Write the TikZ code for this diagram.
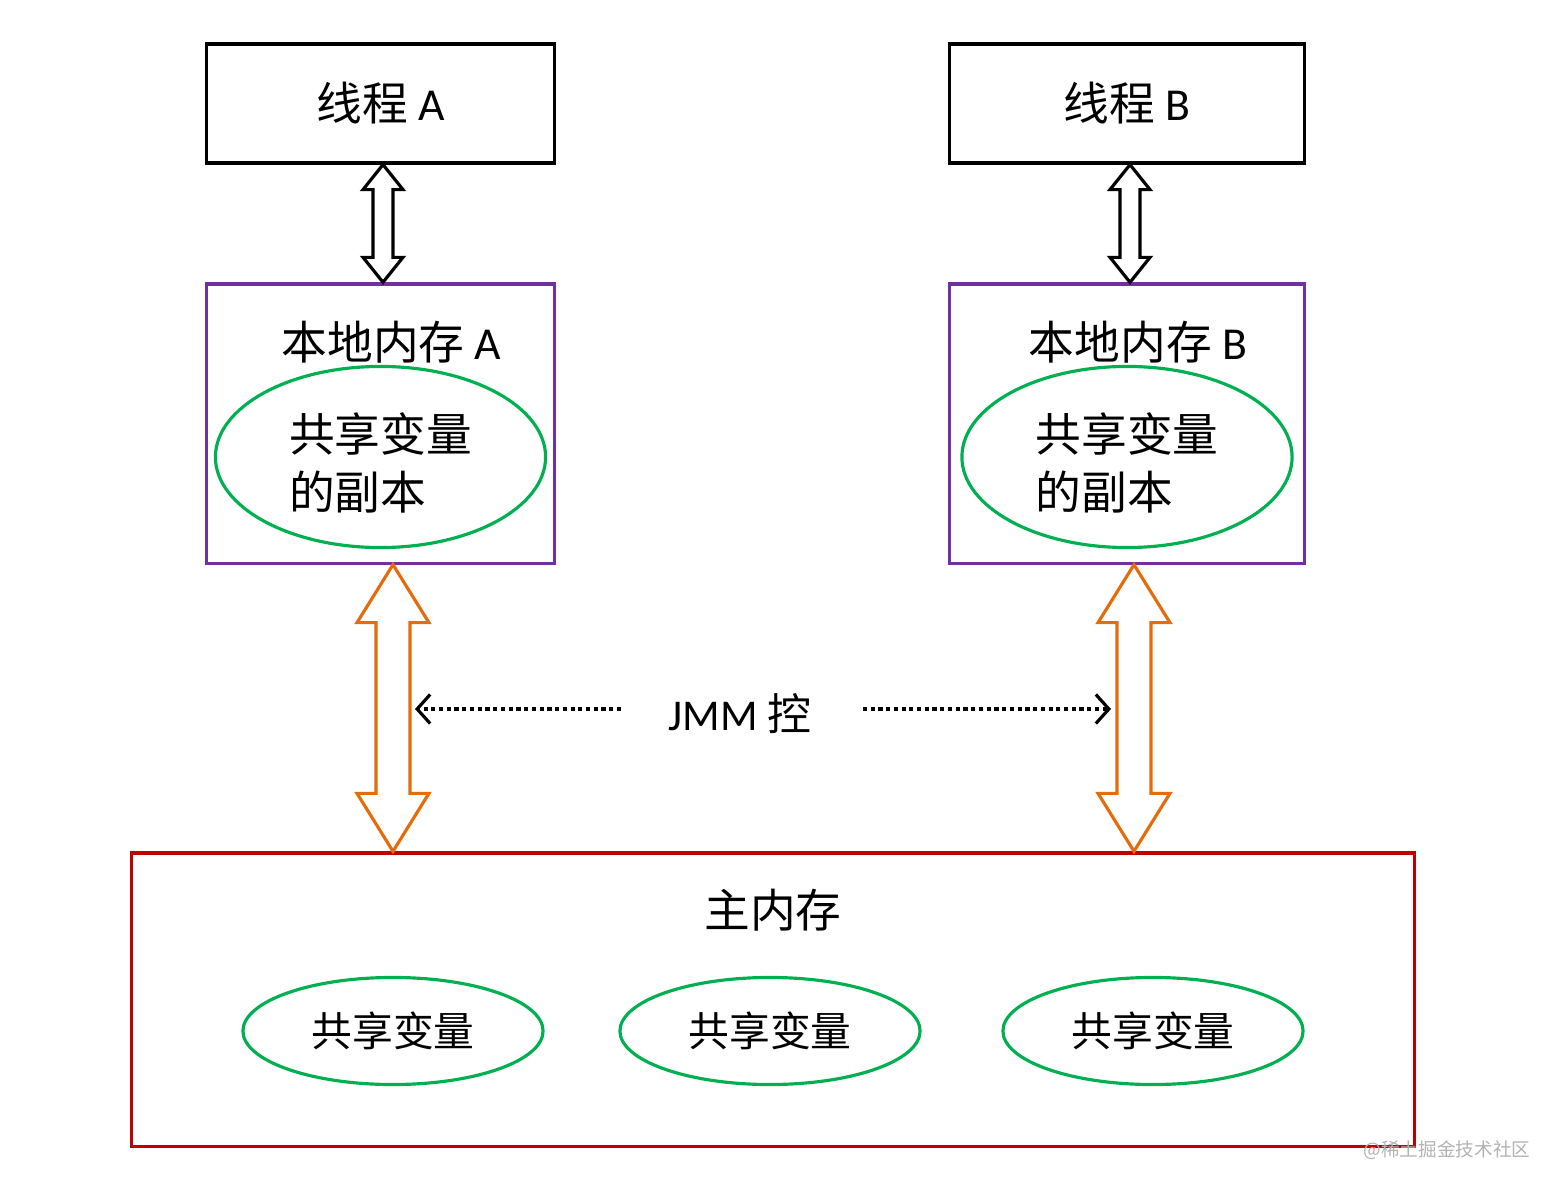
\documentclass[tikz,border=0pt]{standalone}
\usepackage{fontspec}
\setmainfont{Carlito}
\newfontfamily\cjk{Noto Sans CJK SC}
\usetikzlibrary{shapes.geometric,arrows.meta,calc}
\definecolor{memPurple}{HTML}{7030A0}
\definecolor{varGreen}{HTML}{00B050}
\definecolor{busOrange}{HTML}{E46C0A}
\definecolor{mainRed}{HTML}{C00000}
% hollow double arrow: style, top tip, bottom tip, shaft half width, head half width, head length
\newcommand\fatarrow[6]{%
  \draw[#1] (#2) -- ++(#5,#6) -- ++(-#5+#4,0) -- ($(#3)+(#4,-#6)$) -- ++(#5-#4,0)
    -- (#3) -- ++(-#5,-#6) -- ++(#5-#4,0) -- ($(#2)+(-#4,#6)$) -- ++(-#5+#4,0) -- cycle;}
\begin{document}
\begin{tikzpicture}[x=0.01cm,y=-0.01cm,line width=0.9pt,
    thread/.style={draw,minimum width=#1,minimum height=1.19cm,inner sep=0pt,font=\fontsize{13pt}{16pt}\selectfont},
    localmem/.style={draw=memPurple,minimum width=#1,minimum height=2.79cm,inner sep=0pt},
    copyvar/.style={draw=varGreen,ellipse,minimum width=3.3cm,minimum height=1.81cm,inner sep=0pt},
    copytext/.style={align=left,inner sep=0pt,font=\cjk\fontsize{13pt}{16.5pt}\selectfont},
    sharedvar/.style={draw=varGreen,ellipse,minimum width=3.0cm,minimum height=1.07cm,inner sep=0pt,font=\cjk\fontsize{11.6pt}{14pt}\selectfont},
    title/.style={font=\fontsize{13pt}{16pt}\selectfont},
    ctrl/.style={densely dotted,line width=1.2pt,-{Straight Barb[length=1.3mm,width=2.9mm,line width=0.9pt]}}]
    \useasboundingbox (0,0) rectangle (1557,1191);

    \foreach \n/\x/\w in {A/380.5/3.47cm,B/1127/3.54cm} {
        \node[thread=\w] (t\n) at (\x,103.5) {{\cjk 线程}~\n};
        \node[localmem=\w] (l\n) at (\x,423.5) {};
        \node[title] (h\n) at (\x+11,342) {{\cjk 本地内存}~\n};
        \node[copyvar] (c\n) at (\x,457) {};
        \node[copytext] (v\n) at (\x,463) {共享变量\\的副本};
    }

    \node[draw=mainRed,minimum width=12.82cm,minimum height=2.93cm,inner sep=0pt] (main) at (773,999.5) {};
    \node[title,font=\cjk\fontsize{13pt}{16pt}\selectfont] (mtitle) at (773,910) {主内存};
    \node[sharedvar] (s1) at (393,1031) {共享变量};
    \node[sharedvar] (s2) at (770,1031) {共享变量};
    \node[sharedvar] (s3) at (1153,1031) {共享变量};

    % thread <-> local memory
    \coordinate (pa) at ($(tA.south)+(2.5,0)$);
    \coordinate (qa) at (pa |- lA.north);
    \coordinate (pb) at ($(tB.south)+(3,0)$);
    \coordinate (qb) at (pb |- lB.north);
    \fatarrow{draw=black,fill=white}{pa}{qa}{10}{20}{25}
    \fatarrow{draw=black,fill=white}{pb}{qb}{10}{20}{25}

    % local memory <-> main memory
    \coordinate (ua) at ($(lA.south)+(12.5,0)$);
    \coordinate (va) at (ua |- main.north);
    \coordinate (ub) at ($(lB.south)+(7,0)$);
    \coordinate (vb) at (ub |- main.north);
    \fatarrow{draw=busOrange,fill=white}{ua}{va}{17}{36}{58}
    \fatarrow{draw=busOrange,fill=white}{ub}{vb}{17}{36}{58}

    % JMM control
    \node[title,font=\fontsize{12.5pt}{15pt}\selectfont] (jmm) at (740,714) {JMM {\cjk 控}};
    \coordinate (ja) at ($(jmm.west)+(-34,-5)$);
    \coordinate (jb) at ($(jmm.east)+(38,-5)$);
    \draw[ctrl] (ja) -- (ja -| 415,0);
    \draw[ctrl] (jb) -- (jb -| 1111,0);

    \node[text=gray!60,font=\cjk\fontsize{5.3pt}{6pt}\selectfont] (mark) at (1447,1150) {@稀土掘金技术社区};
\end{tikzpicture}
\end{document}
